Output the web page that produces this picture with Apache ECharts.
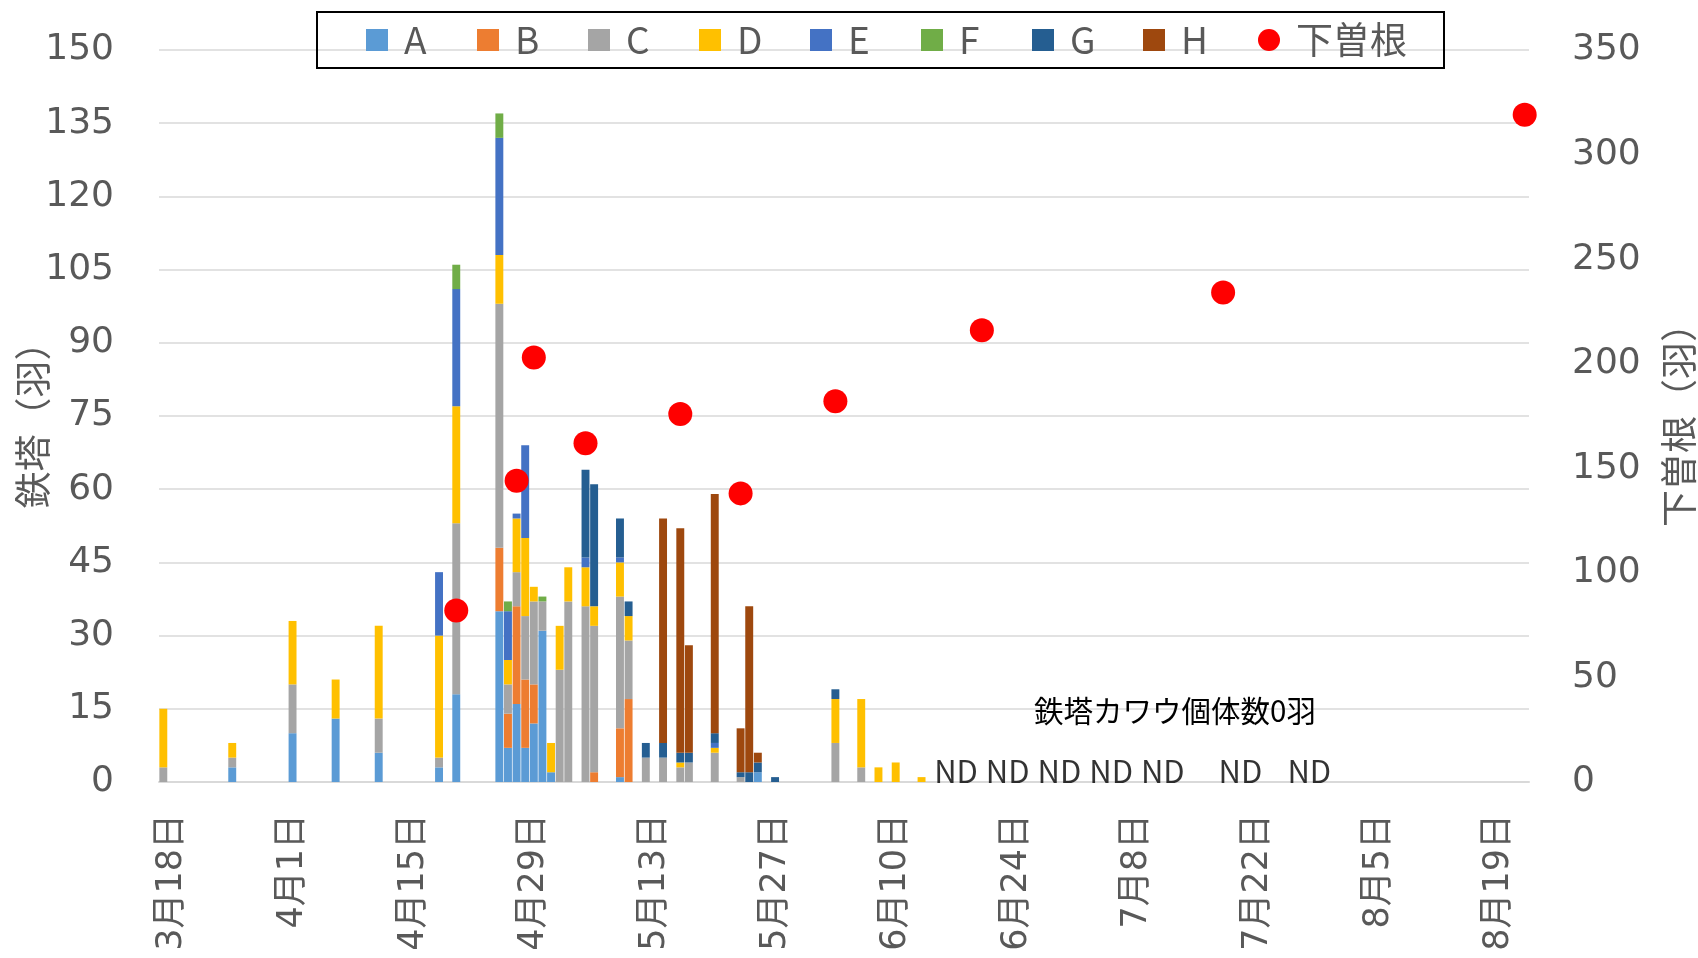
<!DOCTYPE html>
<html><head><meta charset="utf-8">
<script src="https://cdn.jsdelivr.net/npm/echarts@6/dist/echarts.min.js"></script>
<style>html,body{margin:0;padding:0;background:#fff}#c{width:1698px;height:958px}</style>
</head><body><div id="c"></div>
<script>
// ---- axis range (daily categories) ----
const axisStart = [3, 18];
const axisEnd = [8, 23];
const monthLength = {3: 31, 4: 30, 5: 31, 6: 30, 7: 31, 8: 31};

// ---- tower (鉄塔) counts, stacked by group ----
const barDates = ['3月18日','3月26日','4月2日','4月7日','4月12日','4月19日','4月21日','4月26日','4月27日','4月28日','4月29日','4月30日','5月1日','5月2日','5月3日','5月4日','5月6日','5月7日','5月10日','5月11日','5月13日','5月15日','5月17日','5月18日','5月21日','5月24日','5月25日','5月26日','5月28日','6月4日','6月7日','6月9日','6月11日','6月14日'];
const seriesA = [0,3,10,13,6,3,18,35,7,16,7,12,31,2,0,0,0,0,1,0,0,0,0,0,0,0,0,2,0,0,0,0,0,0];
const seriesB = [0,0,0,0,0,0,0,13,7,20,14,8,0,0,0,0,0,2,10,17,0,0,0,0,0,0,0,0,0,0,0,0,0,0];
const seriesC = [3,2,10,0,7,2,35,50,6,7,13,17,6,0,23,37,36,30,27,12,5,5,3,4,6,1,0,0,0,8,3,0,0,0];
const seriesD = [12,3,13,8,19,25,24,10,5,11,16,3,0,6,9,7,8,4,7,5,0,0,1,0,1,0,0,0,0,9,14,3,4,1];
const seriesE = [0,0,0,0,0,13,24,24,10,1,19,0,0,0,0,0,2,0,1,0,0,0,0,0,1,0,0,0,0,0,0,0,0,0];
const seriesF = [0,0,0,0,0,0,5,5,2,0,0,0,1,0,0,0,0,0,0,0,0,0,0,0,0,0,0,0,0,0,0,0,0,0];
const seriesG = [0,0,0,0,0,0,0,0,0,0,0,0,0,0,0,0,18,25,8,3,3,3,2,2,2,1,2,2,1,2,0,0,0,0];
const seriesH = [0,0,0,0,0,0,0,0,0,0,0,0,0,0,0,0,0,0,0,0,0,46,46,22,49,9,34,2,0,0,0,0,0,0];

// ---- 下曽根 counts (right axis) ----
const dotDates = ['4月21日','4月28日','4月30日','5月6日','5月17日','5月24日','6月4日','6月21日','7月19日','8月23日'];
const dotValues = [82,144,203,162,176,138,182,216,234,319];

// ---- annotations ----
const ndDates = ['6月18日','6月24日','6月30日','7月6日','7月12日','7月21日','7月29日'];
const noteText = '鉄塔カワウ個体数0羽';

const groupNames = ['A','B','C','D','E','F','G','H'];
const groupColors = ['#5B9BD5','#ED7D31','#A5A5A5','#FFC000','#4472C4','#70AD47','#255E91','#9E480E'];
const groupValues = [seriesA,seriesB,seriesC,seriesD,seriesE,seriesF,seriesG,seriesH];

// build daily categories
const categories = [];
(function(){
  let m = axisStart[0], d = axisStart[1];
  while (true) {
    categories.push(m + '月' + d + '日');
    if (m === axisEnd[0] && d === axisEnd[1]) break;
    d++;
    if (d > monthLength[m]) { d = 1; m++; }
  }
})();

function toDaily(dates, vals) {
  const map = {};
  dates.forEach((dt, i) => { map[dt] = vals[i]; });
  return categories.map(c => (map[c] !== undefined && map[c] !== 0) ? map[c] : '-');
}

const tickFont = 'DejaVu Sans, Noto Sans CJK JP, sans-serif';
const jpFont = 'Noto Sans CJK JP, sans-serif';

const series = groupNames.map((n, i) => ({
  name: n, type: 'bar', stack: 'tower', yAxisIndex: 0,
  barCategoryGap: '8%',
  itemStyle: {color: groupColors[i]},
  data: toDaily(barDates, groupValues[i]),
  z: 2
}));

series.push({
  name: '下曽根', type: 'scatter', yAxisIndex: 1,
  symbol: 'circle', symbolSize: 24,
  itemStyle: {color: '#FF0000', opacity: 1},
  data: toDaily(dotDates, dotValues), z: 5
});

series.push({
  name: 'ND', type: 'scatter', yAxisIndex: 0,
  symbolSize: 0, silent: true,
  data: ndDates.map(d => [d, 0]),
  label: {show: true, formatter: 'ND', position: 'top', distance: -5,
    color: '#000', fontSize: 31, fontFamily: jpFont},
  z: 4
});

const chart = echarts.init(document.getElementById('c'), null, {renderer: 'canvas'});
chart.setOption({
  animation: false,
  backgroundColor: '#fff',
  grid: {left: 159, right: 169, top: 50, bottom: 176, containLabel: false, outerBoundsMode: 'none'},
  legend: {
    left: 317, top: 12,
    borderColor: '#000', borderWidth: 2,
    padding: [4, 34, 4, 49],
    itemWidth: 22, itemHeight: 22, itemGap: 13,
    textStyle: {fontSize: 37, color: '#595959', fontFamily: jpFont, width: 60, padding: [0,0,8,11], lineHeight: 40},
    data: groupNames.map(n => (n === 'H' ? {name: n, icon: 'rect', textStyle: {width: 64}} : {name: n, icon: 'rect'}))
      .concat([{name: '下曽根', icon: 'circle', textStyle: {width: 114}}])
  },
  xAxis: {
    type: 'category', data: categories, boundaryGap: true,
    axisTick: {show: false},
    axisLine: {lineStyle: {color: '#d9d9d9', width: 2}},
    axisLabel: {interval: 13, rotate: 90, fontSize: 35, color: '#595959', fontFamily: tickFont, margin: 32,
      verticalAlign: 'top', lineHeight: 18}
  },
  yAxis: [{
    type: 'value', min: 0, max: 150, interval: 15,
    axisLine: {show: false}, axisTick: {show: false},
    splitLine: {lineStyle: {color: '#d9d9d9', width: 1.5}},
    axisLabel: {fontSize: 36, color: '#595959', fontFamily: tickFont, margin: 45},
    name: '鉄塔（羽）', nameLocation: 'middle', nameGap: 108, nameRotate: 90, nameMoveOverlap: false,
    nameTextStyle: {fontSize: 37, color: '#595959', fontFamily: jpFont}
  }, {
    type: 'value', min: 0, max: 350, interval: 50, position: 'right',
    axisLine: {show: false}, axisTick: {show: false},
    splitLine: {show: false},
    axisLabel: {fontSize: 36, color: '#595959', fontFamily: tickFont, margin: 43},
    name: '下曽根（羽）', nameLocation: 'middle', nameGap: 131, nameRotate: 90, nameMoveOverlap: false,
    nameTextStyle: {fontSize: 37, color: '#595959', fontFamily: jpFont}
  }],
  graphic: [{
    type: 'text', x: 1175, y: 711, z: 10,
    style: {text: noteText, fontSize: 29.5, fontFamily: jpFont, fill: '#000',
      align: 'center', verticalAlign: 'middle', textAlign: 'center', textVerticalAlign: 'middle'}
  }],
  series: series
});
</script>
</body></html>
